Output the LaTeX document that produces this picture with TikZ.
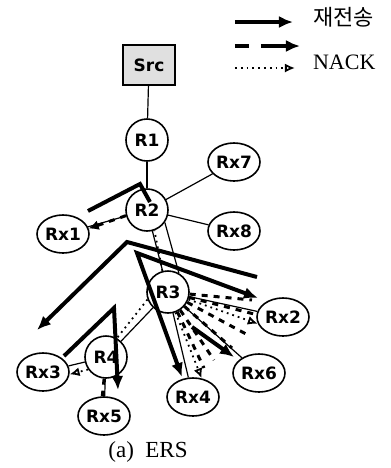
\documentclass[tikz,border=0pt]{standalone}
\usepackage{fontspec}
\setmainfont{Liberation Serif}
\setsansfont{DejaVu Sans}
\newfontfamily\kofont{Noto Sans CJK KR}
\usetikzlibrary{arrows.meta,shapes.geometric}

\begin{document}
\begin{tikzpicture}[
  x=0.5pt, y=-0.5pt,
  font=\sffamily\bfseries\fontsize{8.5}{10}\selectfont,
  router/.style={circle, draw=black, line width=0.8pt, minimum size=21pt, inner sep=0pt},
  recv/.style={ellipse, draw=black, line width=0.8pt, minimum width=26pt, minimum height=19pt, inner sep=0pt},
  srcbox/.style={draw=black, fill=black!12, line width=0.8pt, minimum width=26pt, minimum height=20pt},
  link/.style={line width=0.6pt},
  retrans/.style={line width=2pt, line join=miter},
  nack/.style={line width=1.5pt, dash pattern=on 3pt off 3pt},
  nackdot/.style={line width=0.9pt, dotted, -{Latex[open,length=5pt,width=4.5pt]}},
  legend/.style={font=\rmfamily\mdseries\fontsize{11}{12}\selectfont, anchor=west}
]
\useasboundingbox (0,0) rectangle (391,468);

% multicast tree
\node[srcbox] (src) at (149,65) {Src};
\node[router] (r1) at (147,140) {R1};
\node[router] (r2) at (147,210) {R2};
\node[router] (r3) at (168,292) {R3};
\node[router] (r4) at (106,357) {R4};
\node[recv] (rx7) at (234,162) {Rx7};
\node[recv] (rx8) at (234,231) {Rx8};
\node[recv] (rx1) at (63,234) {Rx1};
\node[recv] (rx2) at (283,317) {Rx2};
\node[recv] (rx6) at (259,373) {Rx6};
\node[recv] (rx4) at (193,397) {Rx4};
\node[recv] (rx5) at (104,416) {Rx5};
\node[recv] (rx3) at (43,372) {Rx3};

\draw[link] (src) -- (r1);
\draw[link] (r1) -- (r2);
\draw[link] (r2) -- (rx7);
\draw[link] (r2) -- (rx8);
\draw[link] (r2) -- (rx1);
\draw[link] (r2) -- (r3);
\draw[link] (r2.-35) -- (r3.60);
\draw[link] (r3) -- (rx2);
\draw[link] (r3) -- (rx6);
\draw[link] (r3) -- (rx4);
\draw[link] (r3) -- (r4);
\draw[link] (r4) -- (rx3);
\draw[link] (r4) -- (rx5);

% retransmissions
\coordinate (a1) at (88,211);
\coordinate (a0) at (140,184);
\coordinate (a2) at (150,202);
\coordinate (b1) at (257,277);
\coordinate (b0) at (127,242);
\coordinate (b2) at (37,330);
\coordinate (c1) at (258,298);
\coordinate (c0) at (137,253);
\coordinate (c2) at (182,377);
\coordinate (d1) at (64,356);
\coordinate (d0) at (114,308);
\coordinate (d2) at (118,390);
\coordinate (e0) at (192,327);
\coordinate (e1) at (234,357);

\draw[retrans] (a1) -- (a0) -- (a2);
\draw[retrans,-{Latex[length=7pt,width=6pt]}] (b1) -- (b0) -- (b2);
\draw[retrans,{Latex[length=7pt,width=6pt]}-{Latex[length=7pt,width=6pt]}] (c1) -- (c0) -- (c2);
\draw[retrans,-{Latex[length=7pt,width=6pt]}] (d1) -- (d0) -- (d2);
\draw[retrans,-{Latex[length=7pt,width=6pt]}] (e0) -- (e1);

% NACKs
\foreach \x/\y [count=\i] in {252/300,254/314,246/334,232/348,214/360,204/368}
  \coordinate (fan\i) at (\x,\y);
\foreach \i in {1,...,6}
  \draw[nack] (r3) -- (fan\i);
\draw[nack,-{Latex[length=5pt,width=5pt]}] (r2.195) -- (rx1.12);
\draw[nack] (r4.265) -- (rx5.95);
\draw[nackdot] (r3.-20) -- (rx2.195);
\draw[nackdot] (r3.-70) -- (rx4.65);
\draw[nackdot] (r4.215) -- (rx3.-5);
\draw[nackdot,-] (r3.200) -- (r4.60);
\draw[nackdot,-] (r3.105) -- (r2.-70);

% legend
\coordinate (l1a) at (235,22);
\coordinate (l1b) at (293,22);
\coordinate (l2a) at (235,46);
\coordinate (l2b) at (300,46);
\coordinate (l3a) at (235,68);
\coordinate (l3b) at (295,68);
\draw[retrans,-{Latex[length=7pt,width=6pt]}] (l1a) -- (l1b);
\draw[nack,line width=2pt,dash pattern=on 7pt off 6pt on 40pt off 1pt,-{Latex[length=7pt,width=6pt]}] (l2a) -- (l2b);
\draw[nackdot] (l3a) -- (l3b);
\node[legend] (retxt) at (306,17) {\kofont 재전송};
\node[legend] (nacktxt) at (306,62) {NACK};

\node[font=\rmfamily\mdseries\fontsize{11.5}{12}\selectfont] (caption) at (148,452) {(a)~ ERS};

\end{tikzpicture}
\end{document}
